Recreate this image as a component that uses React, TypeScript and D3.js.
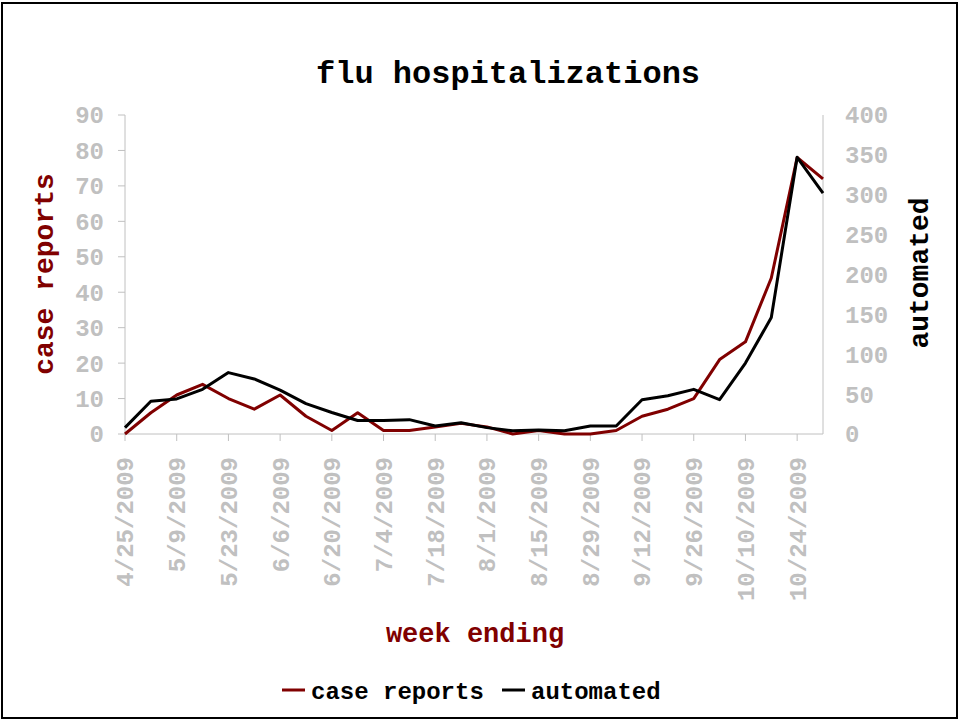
import React from "react";
import * as d3 from "d3";

const weeks = [
  "4/25/2009", "5/2/2009", "5/9/2009", "5/16/2009", "5/23/2009", "5/30/2009",
  "6/6/2009", "6/13/2009", "6/20/2009", "6/27/2009", "7/4/2009", "7/11/2009",
  "7/18/2009", "7/25/2009", "8/1/2009", "8/8/2009", "8/15/2009", "8/22/2009",
  "8/29/2009", "9/5/2009", "9/12/2009", "9/19/2009", "9/26/2009", "10/3/2009",
  "10/10/2009", "10/17/2009", "10/24/2009", "10/31/2009",
];
const caseReports = [0, 6, 11, 14, 10, 7, 11, 5, 1, 6, 1, 1, 2, 3, 2, 0, 1, 0, 0, 1, 5, 7, 10, 21, 26, 44, 78, 72];
const automated = [8, 41, 44, 56, 77, 69, 55, 38, 27, 17, 17, 18, 10, 14, 8, 4, 5, 4, 10, 10, 43, 48, 56, 43, 89, 146, 347, 302];
const leftTicks = [0, 10, 20, 30, 40, 50, 60, 70, 80, 90];
const rightTicks = [0, 50, 100, 150, 200, 250, 300, 350, 400];

const FONT = "'Liberation Mono', 'Courier New', monospace";
const RED = "#800000";
const GRAY = "#c0c0c0";

export default function App() {
  const x = d3.scalePoint<string>().domain(weeks).range([125, 823]);
  const yL = d3.scaleLinear().domain([0, 90]).range([434, 115]);
  const yR = d3.scaleLinear().domain([0, 400]).range([434, 115]);
  const lineL = d3
    .line<number>()
    .x((_, i) => x(weeks[i]) as number)
    .y((d) => yL(d));
  const lineR = d3
    .line<number>()
    .x((_, i) => x(weeks[i]) as number)
    .y((d) => yR(d));
  const labeled = weeks.filter((_, i) => i % 2 === 0);

  return (
    <svg
      width={960}
      height={721}
      style={{ position: "absolute", left: 0, top: 0, background: "#fff" }}
      fontFamily={FONT}
      fontWeight="bold"
    >
      <rect x={0} y={0} width={960} height={721} fill="#fff" />
      <rect x={2} y={3} width={955} height={715} fill="none" stroke="#000" strokeWidth={2} />
      <text x={508} y={83} textAnchor="middle" fontSize={32} fill="#000">
        flu hospitalizations
      </text>

      {/* axes */}
      <line x1={125} x2={125} y1={115} y2={434} stroke={GRAY} strokeWidth={1} />
      <line x1={823} x2={823} y1={115} y2={434} stroke={GRAY} strokeWidth={1} />
      <line x1={125} x2={823} y1={434} y2={434} stroke={GRAY} strokeWidth={1} />

      {leftTicks.map((t) => (
        <g key={"l" + t}>
          <line x1={118} x2={125} y1={yL(t)} y2={yL(t)} stroke={GRAY} />
          <text x={104} y={yL(t)} dy="0.35em" textAnchor="end" fontSize={24} fill={GRAY}>
            {t}
          </text>
        </g>
      ))}
      {rightTicks.map((t) => (
        <text key={"r" + t} x={845} y={yR(t)} dy="0.35em" textAnchor="start" fontSize={24} fill={GRAY}>
          {t}
        </text>
      ))}
      {labeled.map((w) => (
        <g key={w}>
          <line x1={x(w)} x2={x(w)} y1={434} y2={441} stroke={GRAY} />
          <text
            transform={`translate(${x(w)},457) rotate(-90)`}
            dy="0.35em"
            textAnchor="end"
            fontSize={24}
            fill={GRAY}
          >
            {w}
          </text>
        </g>
      ))}

      {/* axis titles */}
      <text transform="translate(43,274) rotate(-90)" dy="0.35em" textAnchor="middle" fontSize={28} fill={RED}>
        case reports
      </text>
      <text transform="translate(918,273) rotate(-90)" dy="0.35em" textAnchor="middle" fontSize={28} fill="#000">
        automated
      </text>
      <text x={475} y={642} textAnchor="middle" fontSize={27} fill={RED}>
        week ending
      </text>

      {/* series */}
      <path d={lineL(caseReports) || ""} fill="none" stroke={RED} strokeWidth={3} strokeLinejoin="round" />
      <path d={lineR(automated) || ""} fill="none" stroke="#000" strokeWidth={3} strokeLinejoin="round" />

      {/* legend */}
      <line x1={282} x2={305} y1={690} y2={690} stroke={RED} strokeWidth={3} />
      <text x={311} y={699} fontSize={24} fill="#000">
        case reports
      </text>
      <line x1={502} x2={525} y1={690} y2={690} stroke="#000" strokeWidth={3} />
      <text x={531} y={699} fontSize={24} fill="#000">
        automated
      </text>
    </svg>
  );
}
